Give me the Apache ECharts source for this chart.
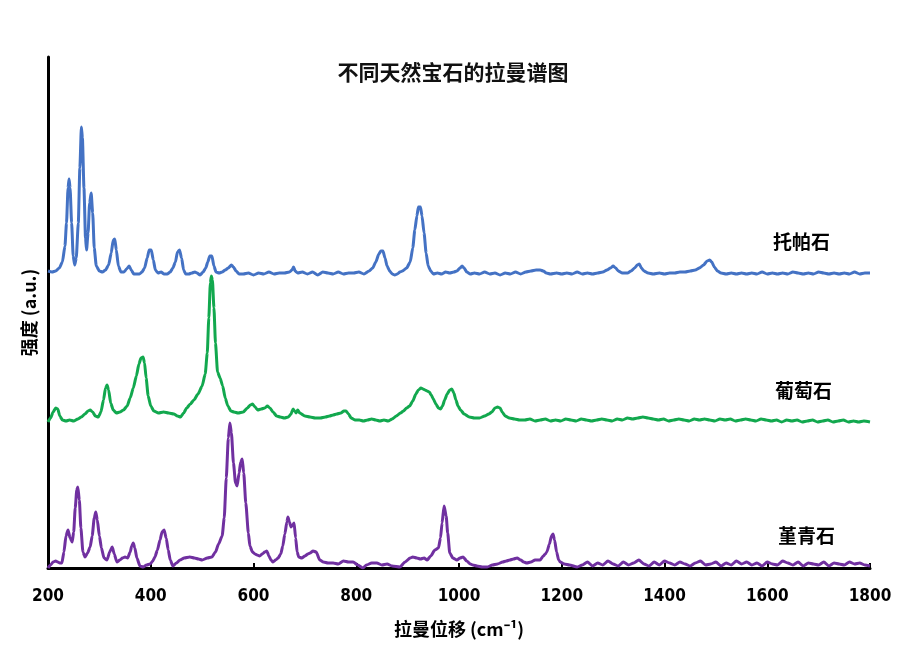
<!DOCTYPE html>
<html><head><meta charset="utf-8">
<script src="https://cdn.jsdelivr.net/npm/echarts@6/dist/echarts.min.js"></script>
<style>html,body{margin:0;padding:0;background:#fff}#c{width:906px;height:659px}</style>
</head><body><div id="c"></div>
<script>
// ---- data (intensity in arbitrary, offset-stacked units) ----
const xTicks = [200, 400, 600, 800, 1000, 1200, 1400, 1600, 1800];
const titleText = '不同天然宝石的拉曼谱图';
const seriesNames = ['托帕石', '葡萄石', '堇青石'];

// [Raman shift (cm-1), intensity]
const topaz = [[200,297],[208,296],[215,297],[222,300],[228,306],[233,322],[236,345],[239,380],[241,389],[243,380],[246,345],[249,312],[252,303],[255,310],[259,345],[262,400],[265,441],[267,430],[270,380],[273,330],[275,318],[278,335],[281,365],[284,375],[287,355],[290,320],[294,302],[300,297],[306,296],[312,298],[318,303],[323,315],[327,328],[330,329],[333,318],[337,302],[342,296],[348,296],[353,299],[358,302],[362,298],[367,294],[372,294],[378,294],[383,296],[388,300],[393,310],[397,318],[401,318],[405,308],[409,298],[414,295],[420,296],[426,294],[432,294],[438,296],[443,300],[448,306],[452,316],[456,318],[460,310],[464,298],[468,294],[474,294],[480,295],[486,296],[490,295],[496,293],[502,296],[507,300],[511,306],[515,312],[519,312],[523,302],[527,296],[533,295],[539,296],[545,298],[551,300],[557,303],[561,301],[566,297],[572,294],[580,294],[590,295],[600,293],[610,295],[620,294],[630,296],[640,294],[650,295],[660,295],[670,296],[675,298],[678,301],[681,297],[686,295],[695,296],[705,294],[715,296],[725,293],[735,296],[745,295],[755,294],[765,296],[775,294],[785,295],[795,295],[805,296],[815,294],[825,297],[832,300],[838,306],[844,314],[848,317],[852,317],[856,310],[860,302],[865,297],[870,294],[875,293],[880,294],[885,296],[890,297],[898,300],[905,306],[910,320],[914,338],[918,352],[921,361],[925,361],[928,352],[932,335],[936,315],[940,302],[945,297],[950,294],[958,295],[966,294],[974,296],[982,295],[990,296],[996,297],[1002,300],[1006,302],[1010,300],[1015,296],[1022,294],[1030,295],[1040,294],[1050,296],[1060,294],[1070,295],[1080,293],[1090,295],[1100,294],[1110,296],[1120,294],[1130,296],[1140,297],[1150,298],[1158,298],[1164,297],[1170,295],[1178,294],[1190,295],[1200,294],[1210,295],[1220,294],[1230,296],[1240,294],[1250,295],[1260,294],[1270,295],[1280,296],[1288,298],[1295,300],[1300,302],[1305,300],[1310,297],[1318,295],[1328,295],[1335,297],[1342,300],[1347,303],[1351,304],[1355,300],[1360,297],[1368,295],[1378,294],[1390,295],[1400,294],[1410,295],[1420,295],[1430,296],[1440,296],[1450,297],[1460,298],[1468,300],[1476,303],[1483,307],[1488,308],[1492,306],[1497,301],[1503,297],[1510,295],[1520,294],[1530,295],[1540,294],[1550,295],[1560,294],[1570,295],[1580,294],[1590,296],[1600,294],[1610,295],[1620,294],[1630,295],[1640,294],[1650,296],[1660,295],[1670,294],[1680,295],[1690,294],[1700,296],[1710,295],[1720,294],[1730,295],[1740,294],[1750,295],[1760,294],[1770,296],[1780,294],[1790,295],[1800,295]];

const prehnite = [[200,146],[205,150],[210,156],[215,160],[219,159],[223,152],[228,148],[235,147],[242,148],[250,147],[258,149],[265,151],[272,154],[278,157],[282,158],[287,156],[292,152],[298,151],[303,156],[308,168],[312,180],[315,183],[318,178],[322,165],[327,158],[333,155],[340,156],[347,158],[354,162],[360,170],[366,180],[372,192],[377,204],[381,210],[385,211],[388,205],[391,190],[395,172],[400,162],[406,157],[415,155],[425,156],[435,155],[445,154],[452,152],[458,151],[464,155],[470,160],[477,164],[484,168],[492,174],[500,182],[506,194],[510,215],[513,250],[516,285],[518,292],[520,288],[523,260],[526,225],[530,196],[535,190],[540,182],[545,170],[550,162],[556,157],[562,156],[570,155],[580,156],[588,160],[594,163],[598,164],[603,161],[608,158],[615,159],[622,160],[627,162],[632,160],[638,156],[645,152],[652,151],[660,150],[668,151],[673,154],[677,159],[680,157],[683,155],[686,158],[690,155],[700,152],[710,151],[720,150],[730,150],[740,151],[748,152],[755,153],[762,154],[770,155],[776,157],[780,157],[785,154],[790,150],[798,148],[806,148],[814,147],[822,148],[830,149],[838,148],[846,147],[854,148],[862,147],[870,149],[878,152],[886,155],[892,157],[898,160],[904,162],[910,167],[916,174],[921,178],[926,180],[930,179],[934,178],[938,177],[942,176],[946,173],[950,169],[955,164],[960,160],[964,159],[968,162],[972,168],[977,174],[982,178],[986,179],[990,175],[994,168],[998,162],[1003,158],[1010,154],[1020,151],[1030,150],[1040,150],[1050,152],[1058,154],[1064,156],[1070,160],[1075,161],[1080,160],[1084,156],[1090,152],[1098,150],[1108,149],[1118,148],[1128,148],[1138,149],[1148,147],[1158,148],[1168,149],[1178,147],[1188,148],[1198,147],[1208,149],[1218,148],[1228,147],[1238,149],[1248,148],[1258,147],[1268,148],[1278,149],[1288,148],[1298,147],[1308,149],[1318,148],[1328,150],[1338,149],[1348,150],[1358,151],[1368,150],[1378,149],[1388,148],[1398,149],[1408,147],[1418,148],[1428,149],[1438,148],[1448,147],[1458,149],[1468,148],[1478,149],[1488,148],[1498,147],[1508,149],[1518,148],[1528,149],[1538,147],[1548,148],[1558,149],[1568,148],[1578,147],[1588,149],[1598,148],[1608,147],[1618,148],[1628,146],[1638,148],[1648,147],[1658,148],[1668,146],[1678,147],[1688,148],[1698,146],[1708,147],[1718,148],[1728,146],[1738,147],[1748,148],[1758,146],[1768,147],[1778,146],[1788,147],[1800,146]];

const cordierite = [[200,0],[205,3],[210,6],[215,7],[219,6],[223,5],[227,5],[231,16],[235,32],[239,38],[243,30],[247,26],[250,36],[253,60],[256,78],[258,81],[261,68],[264,40],[268,16],[272,11],[277,15],[282,21],[286,32],[290,50],[293,56],[296,48],[300,32],[304,20],[309,10],[315,8],[320,16],[325,21],[329,14],[334,6],[340,8],[345,10],[350,11],[355,10],[360,16],[363,22],[366,25],[369,20],[373,10],[379,2],[385,1],[392,3],[399,4],[404,7],[408,11],[413,18],[418,28],[422,36],[426,38],[430,30],[434,18],[438,8],[443,2],[450,5],[457,8],[465,10],[476,11],[485,10],[493,9],[500,8],[510,10],[519,11],[526,16],[532,24],[539,32],[543,50],[547,90],[551,130],[554,145],[557,135],[561,105],[565,85],[568,82],[572,95],[575,106],[578,109],[581,95],[585,65],[590,35],[593,22],[598,16],[603,14],[607,13],[612,12],[617,14],[622,16],[626,17],[630,12],[634,8],[638,6],[643,8],[648,10],[653,14],[657,22],[661,34],[665,46],[667,51],[670,46],[673,41],[676,43],[679,45],[682,30],[685,16],[688,11],[694,10],[700,12],[706,14],[710,15],[716,17],[722,16],[729,8],[736,6],[745,5],[755,5],[765,4],[775,7],[785,6],[794,6],[803,3],[813,0],[820,3],[830,5],[840,5],[850,3],[860,4],[870,2],[885,1],[895,6],[905,10],[910,11],[918,10],[925,9],[932,10],[938,8],[945,12],[953,18],[960,20],[964,30],[967,45],[971,62],[975,52],[978,35],[982,15],[988,10],[996,8],[1002,10],[1008,11],[1015,7],[1022,4],[1027,3],[1035,2],[1045,1],[1055,1],[1065,3],[1075,4],[1085,6],[1092,7],[1099,8],[1106,9],[1113,10],[1120,8],[1126,6],[1132,5],[1140,6],[1148,8],[1158,8],[1164,12],[1168,14],[1171,16],[1176,24],[1180,32],[1183,34],[1186,28],[1190,16],[1194,8],[1197,6],[1205,4],[1215,3],[1230,1],[1240,3],[1250,6],[1260,2],[1270,5],[1280,3],[1290,7],[1300,4],[1310,2],[1320,6],[1330,3],[1340,5],[1350,8],[1360,4],[1370,2],[1380,6],[1390,3],[1400,7],[1410,5],[1420,3],[1430,6],[1440,4],[1450,2],[1460,5],[1470,7],[1480,3],[1490,4],[1500,6],[1510,2],[1520,5],[1530,3],[1540,7],[1550,4],[1560,6],[1570,3],[1580,5],[1590,2],[1600,6],[1610,4],[1620,3],[1630,7],[1640,5],[1650,3],[1660,6],[1670,2],[1680,5],[1690,4],[1700,3],[1710,6],[1720,2],[1730,5],[1740,4],[1750,3],[1760,6],[1770,4],[1780,5],[1790,3],[1800,2]];

const colors = ['#4472C4', '#12A84E', '#7030A0'];

// ---- chart ----
const chart = echarts.init(document.getElementById('c'), null, {renderer: 'canvas'});
const dataSets = [topaz, prehnite, cordierite];
const labelPos = [[773, 232], [775, 381], [778, 526]];

chart.setOption({
  animation: false,
  backgroundColor: '#fff',
  title: {
    text: titleText, left: 'center', top: 57,
    textStyle: {fontFamily: 'Noto Sans CJK SC', fontSize: 21, fontWeight: 'bold', color: '#111'}
  },
  grid: {left: 48, right: 36, top: 57, bottom: 91},
  xAxis: {
    type: 'value', min: xTicks[0], max: xTicks[xTicks.length - 1], interval: 200,
    axisLine: {show: true, lineStyle: {color: '#000', width: 3}},
    axisTick: {show: true, inside: true, length: 5, lineStyle: {color: '#000', width: 2}},
    splitLine: {show: false},
    axisLabel: {margin: 20, fontFamily: 'DejaVu Sans Condensed', fontWeight: 'bold', fontSize: 17, color: '#000',
      formatter: v => String(v)},
    name: '拉曼位移 (cm⁻¹)', nameLocation: 'middle', nameGap: 52,
    nameTextStyle: {fontFamily: 'Noto Sans CJK SC', fontSize: 18, fontWeight: 'bold', color: '#000'}
  },
  yAxis: {
    type: 'value', min: 0, max: 511,
    axisLine: {show: true, lineStyle: {color: '#000', width: 3}},
    axisTick: {show: false}, axisLabel: {show: false}, splitLine: {show: false},
    name: '强度 (a.u.)', nameLocation: 'middle', nameGap: 10,
    nameTextStyle: {fontFamily: 'Noto Sans CJK SC', fontSize: 18, fontWeight: 'bold', color: '#000'}
  },
  series: dataSets.map((d, i) => ({
    name: seriesNames[i], type: 'line', data: d, showSymbol: false, symbol: 'none',
    smooth: 0.2, smoothMonotone: 'x', clip: true,
    lineStyle: {color: colors[i], width: 3}, z: 3 + i
  })),
  graphic: seriesNames.map((n, i) => ({
    type: 'text', left: labelPos[i][0], top: labelPos[i][1],
    style: {text: n, font: 'bold 19px "Noto Sans CJK SC"', fill: '#000'}
  }))
});
</script></body></html>
